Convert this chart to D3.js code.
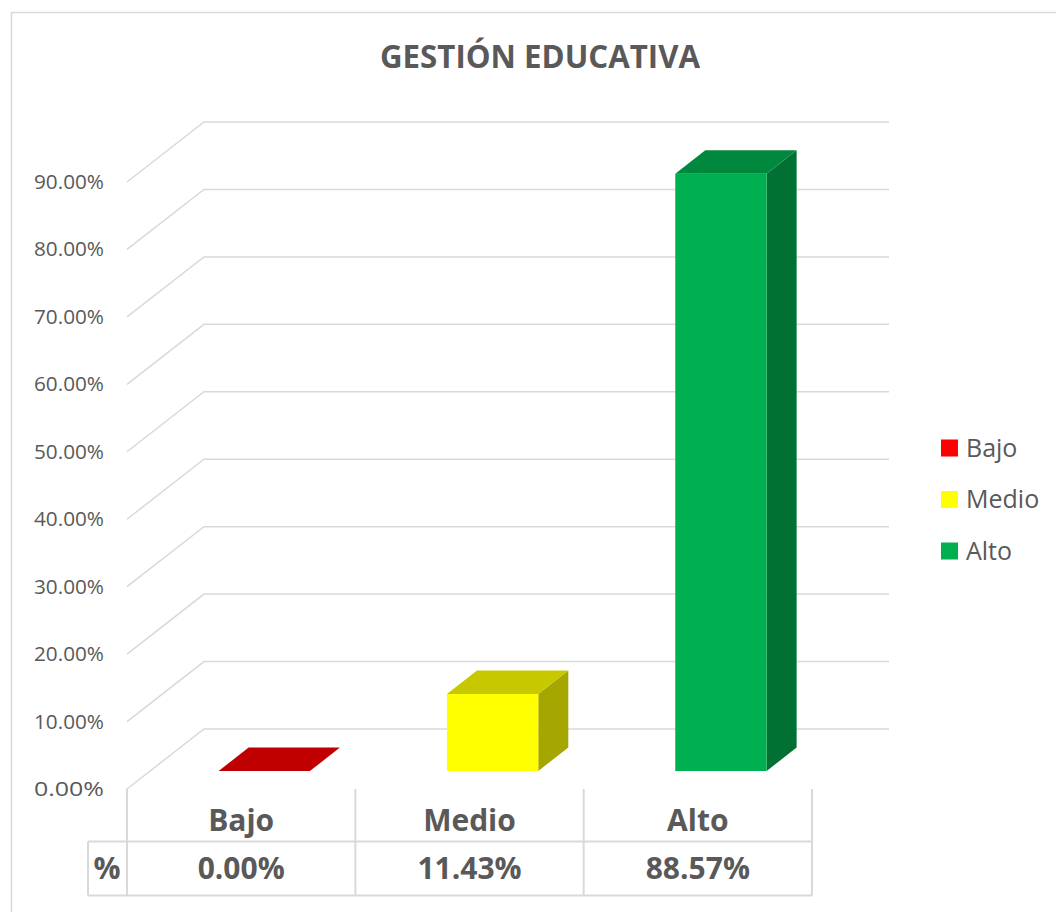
<!DOCTYPE html>
<html>
<head>
<meta charset="utf-8">
<script src="https://cdn.jsdelivr.net/npm/d3@7"></script>
<style>
  body { margin: 0; background: #fff; }
  text { font-family: "Open Sans", sans-serif; fill: #595959; }
</style>
</head>
<body>
<svg id="chart" width="1056" height="912"></svg>
<script>
// Data
const categories = ["Bajo", "Medio", "Alto"];
const values = [0.0, 0.1143, 0.8857];
const valueLabels = ["0.00%", "11.43%", "88.57%"];
const tickValues = [0, 0.1, 0.2, 0.3, 0.4, 0.5, 0.6, 0.7, 0.8, 0.9];

// Face colors per category: front, top, side
const frontColors = ["#ff0000", "#ffff00", "#00b050"];
const topColors = ["#c00000", "#c8c800", "#00883e"];
const sideColors = ["#a00000", "#a6a600", "#007033"];

const svg = d3.select("#chart");
const grid = "#d9d9d9";

// chart border
svg.append("rect")
  .attr("x", 11.5).attr("y", 12.5)
  .attr("width", 1100).attr("height", 1000)
  .attr("fill", "none").attr("stroke", grid).attr("stroke-width", 1.5);

// title
svg.append("text")
  .attr("x", 540).attr("y", 68)
  .attr("text-anchor", "middle")
  .attr("font-size", 33)
  .attr("font-weight", 700)
  .attr("textLength", 320)
  .attr("lengthAdjust", "spacingAndGlyphs")
  .text("GESTIÓN EDUCATIVA");

// 3D projection: front plane scales + depth offset
const DX = 77, DY = 60;
const x = d3.scaleBand().domain(categories).range([127, 812]);
const y = d3.scaleLinear().domain([0, 0.9]).range([789, 182]);
const proj = (px, v, t) => [px + t * DX, y(v) - t * DY];

// gridlines (floor diagonal + back wall)
const g = svg.append("g");
tickValues.forEach(v => {
  const a = proj(127, v, 0), b = proj(127, v, 1), c = proj(812, v, 1);
  g.append("path")
    .attr("d", d3.line()([a, b, c]))
    .attr("fill", "none").attr("stroke", grid).attr("stroke-width", 1.5);
});

// tick labels
svg.append("g").selectAll("text")
  .data(tickValues)
  .enter()
  .append("text")
  .attr("x", 104)
  .attr("y", d => y(d) + 7)
  .attr("text-anchor", "end")
  .attr("font-size", 20)
  .attr("textLength", 70)
  .attr("lengthAdjust", "spacingAndGlyphs")
  .text(d => d3.format(".2%")(d));

// bars
const bw = x.bandwidth() * 0.4;
const t0 = 0.3, t1 = 0.69;
const bars = svg.append("g");
categories.forEach((c, i) => {
  const xl = x(c) + (x.bandwidth() - bw) / 2;
  const xr = xl + bw;
  const v = values[i];
  const poly = pts => bars.append("polygon").attr("points", pts.map(p => p.join(",")).join(" "));
  // side and front faces
  if (v > 0) {
    poly([proj(xr, 0, t0), proj(xr, 0, t1), proj(xr, v, t1), proj(xr, v, t0)])
      .attr("fill", sideColors[i]);
    poly([proj(xl, 0, t0), proj(xr, 0, t0), proj(xr, v, t0), proj(xl, v, t0)])
      .attr("fill", frontColors[i]);
  }
  // top
  poly([proj(xl, v, t0), proj(xr, v, t0), proj(xr, v, t1), proj(xl, v, t1)])
    .attr("fill", topColors[i]);
});

// data table
const tbl = svg.append("g").attr("stroke", grid).attr("stroke-width", 2).attr("fill", "none");
const rowTop = 789, rowMid = 841.5, rowBot = 895.5;
[127, ...categories.map(c => x(c) + x.bandwidth())].forEach(px => {
  tbl.append("line").attr("x1", px).attr("x2", px).attr("y1", rowTop).attr("y2", rowBot);
});
tbl.append("line").attr("x1", 88).attr("x2", 88).attr("y1", rowMid).attr("y2", rowBot);
tbl.append("line").attr("x1", 88).attr("x2", 812).attr("y1", rowMid).attr("y2", rowMid);
tbl.append("line").attr("x1", 88).attr("x2", 812).attr("y1", rowBot).attr("y2", rowBot);

svg.append("g").selectAll("text")
  .data(categories)
  .enter()
  .append("text")
  .attr("x", d => x(d) + x.bandwidth() / 2)
  .attr("y", 831)
  .attr("text-anchor", "middle")
  .attr("font-size", 30)
  .attr("font-weight", 700)
  .text(d => d);

svg.append("g").selectAll("text")
  .data(valueLabels)
  .enter()
  .append("text")
  .attr("x", (d, i) => x(categories[i]) + x.bandwidth() / 2)
  .attr("y", 879)
  .attr("text-anchor", "middle")
  .attr("font-size", 30)
  .attr("font-weight", 700)
  .text(d => d);

svg.append("text")
  .attr("x", 107).attr("y", 879)
  .attr("text-anchor", "middle")
  .attr("font-size", 30)
  .attr("font-weight", 700)
  .text("%");

// legend
const legend = svg.append("g");
categories.forEach((c, i) => {
  const ly = 448 + i * 51.5;
  legend.append("rect")
    .attr("x", 941).attr("y", ly - 8.5)
    .attr("width", 17).attr("height", 17)
    .attr("fill", frontColors[i]);
  legend.append("text")
    .attr("x", 966).attr("y", ly + 8.5)
    .attr("font-size", 25)
    .text(c);
});
</script>
</body>
</html>
